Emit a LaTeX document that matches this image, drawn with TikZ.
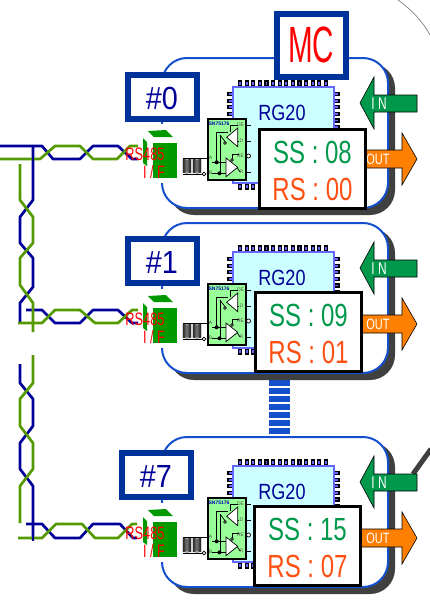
\documentclass[tikz,border=0pt]{standalone}
\usepackage{fontspec}
\usepackage{xcolor}
\setmainfont{Liberation Sans}
\definecolor{frameblue}{RGB}{20,80,205}
\definecolor{labelblue}{RGB}{0,51,153}
\definecolor{inkblue}{RGB}{0,0,153}
\definecolor{shadowgray}{RGB}{64,64,64}
\definecolor{chipcyan}{RGB}{204,255,255}
\definecolor{chipedge}{RGB}{102,102,255}
\definecolor{pingreen}{RGB}{153,255,153}
\definecolor{ifgreen}{RGB}{0,153,0}
\definecolor{ingreen}{RGB}{0,153,76}
\definecolor{outorange}{RGB}{255,128,0}
\definecolor{rsorange}{RGB}{255,80,20}
\definecolor{wireblue}{RGB}{0,0,153}
\definecolor{wiregreen}{RGB}{85,153,0}
\begin{document}
\begin{tikzpicture}[x=1pt,y=-1pt,every node/.style={inner sep=0pt,transform shape},
  modbox/.style={draw=frameblue,line width=2pt,fill=white,rounded corners=25pt},
  modshadow/.style={fill=shadowgray,rounded corners=25pt},
  labelbox/.style={draw=labelblue,line width=6pt,fill=white},
  ssbox/.style={draw=black,line width=3pt,fill=white},
  chipbody/.style={draw=chipedge,line width=2pt,fill=chipcyan},
  chippin/.style={draw=black,line width=1.2pt,fill=chipedge},
  arrowin/.style={draw=black,line width=0.6pt,fill=ingreen},
  arrowout/.style={draw=black,line width=0.6pt,fill=outorange},
  wirea/.style={draw=wireblue,line width=2.7pt,line join=round},
  wireb/.style={draw=wiregreen,line width=2.7pt,line join=round},
  thinline/.style={draw=black,line width=0.7pt},
  tinytext/.style={font=\fontsize{5}{5}\selectfont,text=black!70},
  sstext/.style={font=\fontsize{32}{32}\selectfont,xscale=0.75}]
\useasboundingbox (0,0) rectangle (430,608);
% outer curves
\draw[gray,line width=0.7pt] (398,0) .. controls (412,10) and (423,22) .. (430,35);
\draw[shadowgray,line width=5pt] (413,474) -- (431,449);
% link between the modules
\draw[frameblue,line width=21pt,dash pattern=on 5.5pt off 2.5pt] (279.5,380) -- (279.5,437);
% twisted pair, blue
\draw[wirea] (0,146) -- (42,146) -- (53,159) -- (80,159) -- (93,146) -- (118,146) -- (132,159) -- (138,159);
\draw[wirea] (26,310) -- (42,310) -- (55,323) -- (80,323) -- (93,310) -- (118,310) -- (132,323) -- (138,323);
\draw[wirea] (26,524) -- (42,524) -- (55,538) -- (80,538) -- (93,524) -- (120,524) -- (133,538) -- (137,538);
\draw[wirea] (33,146) -- (33,200) -- (20,217) -- (20,243) -- (33,258) -- (33,287) -- (20,303) -- (20,323);
\draw[wirea] (20,364) -- (20,383) -- (33,399) -- (33,426) -- (20,443) -- (20,469) -- (33,486) -- (33,540);
% twisted pair, green
\draw[wireb] (0,159) -- (40,159) -- (55,146) -- (80,146) -- (93,159) -- (117,159) -- (130,146) -- (138,146);
\draw[wireb] (18,323) -- (42,323) -- (55,310) -- (80,310) -- (95,323) -- (118,323) -- (132,310) -- (138,310);
\draw[wireb] (18,538) -- (42,538) -- (56,524) -- (82,524) -- (95,538) -- (118,538) -- (132,524) -- (137,524);
\draw[wireb] (20,164) -- (20,200) -- (33,217) -- (33,243) -- (20,258) -- (20,285) -- (33,303) -- (33,332);
\draw[wireb] (33,355) -- (33,383) -- (20,399) -- (20,426) -- (33,443) -- (33,469) -- (20,486) -- (20,523);
\draw[wirea] (33,154) -- (33,164);
\draw[wirea] (33,533) -- (33,541);
% the three modules
\foreach \mod/\dy/\ix/\iy/\sx/\sy/\idx/\ssval/\rsval in {
  a/0/0/72/258/128/0/08/00,
  b/165/0/71/254/126/1/09/01,
  c/379/-6/71/253/126/7/15/07}{
\begin{scope}[shift={(0,\dy)}]
\fill[modshadow] (169,63) rectangle (395,215);
\draw[modbox] (162,58) rectangle (388,208);
\fill[white] (150,124) rectangle (172,183);
% RS485 interface
\fill[ifgreen] (153,143) rectangle (177,178);
\fill[ifgreen] (148,131) -- (166,130) -- (173,137) -- (154,137) -- cycle;
\fill[ifgreen] (143,138) -- (147,142) -- (147,166) -- (143,163) -- cycle;
\node[text=red,font=\fontsize{18}{18}\selectfont,xscale=0.71] (rs\mod) at (145,154) {RS485};
\node[text=red,font=\fontsize{18}{18}\selectfont,xscale=0.7] (if\mod) at (154,172) {I / F};
% arrows
\filldraw[arrowin] (360,103) -- (374,77) -- (374,95) -- (417,95) -- (417,112) -- (374,112) -- (374,129) -- cycle;
\node[text=white,font=\fontsize{17}{17}\selectfont,xscale=0.7] (in\mod) at (379,104) {I N};
\filldraw[arrowout] (350,150) -- (402,150) -- (402,133) -- (417,159) -- (402,185) -- (402,168) -- (350,168) -- cycle;
\node[text=white,font=\fontsize{15}{15}\selectfont,xscale=0.73] (out\mod) at (378,159.5) {OUT};
% RG20 chip
\foreach \px in {0,...,13} \filldraw[chippin] ({240+6.6*\px-1.5},81) rectangle ++(3,5);
\foreach \px in {0,...,13} \filldraw[chippin] ({240+6.6*\px-1.5},184) rectangle ++(3,5);
\foreach \py in {0,...,12} \filldraw[chippin] (228,{94+6.6*\py-1.5}) rectangle ++(5,3);
\foreach \py in {0,...,12} \filldraw[chippin] (334,{94+6.6*\py-1.5}) rectangle ++(5,3);
\draw[chipbody] (233,87) rectangle (334,183);
\node[text=inkblue,font=\fontsize{22}{22}\selectfont,xscale=0.82] (rg\mod) at (282,113) {RG20};
% SN75176 transceiver
\draw[thinline] (183,158) -- (207,158);
\draw[thinline] (183,174) -- (202,174);
\foreach \ty in {160,162,164,166,168,170,172} {
  \draw[black,line width=0.7pt] (187,\ty) ellipse (4 and 1);
  \draw[black,line width=0.7pt] (197,\ty) ellipse (4 and 1);
}
\draw[thinline] (246,125) -- (251,125);
\draw[thinline] (246,141) -- (251,141);
\draw[thinline] (246,172.5) -- (251,172.5);
\draw[thinline,fill=white] (248.5,156) circle (2);
\draw[black,line width=2pt,fill=pingreen] (207.5,118.5) rectangle (245.5,180);
\node[text=blue!70!black,font=\fontsize{5}{5}\selectfont\bfseries] (sn\mod) at (219,124) {SN75176};
\node[tinytext] (de\mod) at (240.5,125) {DE};
\node[tinytext] (d\mod) at (241.5,141) {D};
\node[tinytext] (re\mod) at (240.5,156) {RE};
\node[tinytext] (r\mod) at (241.5,172) {R};
\node[tinytext] (a\mod) at (210.5,158) {A};
\node[tinytext] (b\mod) at (210.5,173) {B};
\draw[thinline] (216.7,132) -- (228,132);
\draw[thinline] (220,135) -- (226,143);
\draw[thinline] (216.7,132) -- (216.7,162.5);
\draw[thinline] (220,135) -- (220,173);
\draw[thinline] (212,162.5) -- (226,162.5);
\draw[thinline] (212,173) -- (226,173);
\draw[thinline] (230,125) -- (238,125);
\draw[thinline] (230,125) -- (230,132);
\draw[thinline] (232,154) -- (239,154);
\draw[thinline] (232,154) -- (232,160);
\draw[thinline] (237,141) -- (239,141);
\draw[thinline] (237,167.3) -- (240,172);
\filldraw[thinline,fill=white] (237.7,128) -- (237.7,146.7) -- (226.7,137.3) -- cycle;
\filldraw[thinline,fill=white] (226,158) -- (226,176.7) -- (237.7,167.3) -- cycle;
\draw[thinline,fill=white] (225,143) circle (1.3);
\draw[thinline,fill=white] (232,160) circle (1.3);
\fill[black] (216.7,162.3) circle (2);
\fill[black] (219.5,173.3) circle (2);
\draw[thinline,fill=white] (204,174) circle (1.8);
% id label
\draw[labelbox] ({128+\ix},{\iy+3}) rectangle ({197+\ix},{\iy+47});
\node[text=inkblue,font=\fontsize{32}{32}\selectfont,xscale=0.9] (id\mod) at ({162+\ix},{\iy+26}) {\#\idx};
% SS / RS values
\draw[ssbox] ({\sx+1.5},{\sy+1.5}) rectangle ({\sx+107.5},{\sy+80.5});
\node[sstext,text=ingreen] (ss\mod) at ({\sx+54.5},{\sy+24}) {SS : \ssval};
\node[sstext,text=rsorange] (rsv\mod) at ({\sx+54.5},{\sy+61}) {RS : \rsval};
\end{scope}
}
% MC label
\draw[labelbox,line width=5.5pt] (277,14) rectangle (346,77);
\node[text=red,font=\fontsize{51}{51}\selectfont,xscale=0.58] (mc) at (311,45) {MC};
\end{tikzpicture}
\end{document}
